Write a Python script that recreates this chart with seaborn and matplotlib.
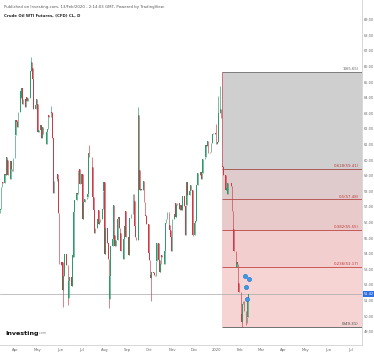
import matplotlib
matplotlib.use("Agg")
import matplotlib.pyplot as plt
import matplotlib.dates as mdates
import seaborn as sns
import pandas as pd
import numpy as np

# ---------------- data (daily closes) ----------------
mar19_days = [11, 12, 13, 14, 15, 18, 19, 20, 21, 22, 25, 26, 27, 28, 29]
mar19_close = [56.79, 56.87, 58.26, 58.61, 58.52, 59.09, 59.03, 60.23, 59.98, 59.04, 58.82, 59.94, 59.41, 59.30, 60.14]
apr19_days = [1, 2, 3, 4, 5, 8, 9, 10, 11, 12, 15, 16, 17, 18, 22, 23, 24, 25, 26, 29, 30]
apr19_close = [61.59, 62.58, 62.46, 62.10, 63.08, 64.40, 63.98, 64.61, 63.58, 63.89, 63.40, 64.05, 63.76, 64.00, 65.70, 66.30, 65.89, 65.21, 63.30, 63.50, 63.91]
may19_days = [1, 2, 3, 6, 7, 8, 9, 10, 13, 14, 15, 16, 17, 20, 21, 22, 23, 24, 28, 29, 30, 31]
may19_close = [63.60, 61.81, 61.94, 62.25, 61.40, 62.12, 61.70, 61.66, 61.04, 61.78, 62.02, 62.87, 62.76, 63.10, 62.99, 61.42, 57.91, 58.63, 59.14, 58.81, 56.59, 53.50]
jun19_days = [3, 4, 5, 6, 7, 10, 11, 12, 13, 14, 17, 18, 19, 20, 21, 24, 25, 26, 27, 28]
jun19_close = [53.25, 53.48, 51.68, 52.59, 53.99, 53.26, 53.27, 51.14, 52.28, 52.51, 51.93, 53.90, 53.76, 56.65, 57.43, 57.90, 57.83, 59.38, 59.43, 58.47]
jul19_days = [1, 2, 3, 5, 8, 9, 10, 11, 12, 15, 16, 17, 18, 19, 22, 23, 24, 25, 26, 29, 30, 31]
jul19_close = [59.09, 56.25, 57.34, 57.51, 57.66, 57.83, 60.43, 60.20, 60.21, 59.58, 57.62, 56.78, 55.30, 55.63, 56.22, 56.77, 55.88, 56.02, 56.20, 56.87, 58.05, 58.58]
aug19_days = [1, 2, 5, 6, 7, 8, 9, 12, 13, 14, 15, 16, 19, 20, 21, 22, 23, 26, 27, 28, 29, 30]
aug19_close = [53.95, 55.66, 54.69, 53.63, 51.09, 52.54, 54.50, 54.93, 57.10, 55.23, 54.47, 54.87, 56.21, 56.34, 55.68, 55.35, 54.17, 53.64, 54.93, 55.78, 56.71, 55.10]
sep19_days = [3, 4, 5, 6, 9, 10, 11, 12, 13, 16, 17, 18, 19, 20, 23, 24, 25, 26, 27, 30]
sep19_close = [53.94, 56.26, 56.30, 56.52, 57.85, 57.40, 55.75, 55.09, 54.85, 62.90, 59.34, 58.11, 58.13, 58.09, 58.64, 57.29, 56.49, 56.41, 55.91, 54.07]
oct19_days = [1, 2, 3, 4, 7, 8, 9, 10, 11, 14, 15, 16, 17, 18, 21, 22, 23, 24, 25, 28, 29, 30, 31]
oct19_close = [53.62, 52.64, 52.45, 52.81, 52.75, 52.63, 52.59, 53.55, 54.70, 53.59, 52.81, 53.36, 53.93, 53.78, 53.31, 54.16, 55.97, 56.23, 56.66, 55.81, 55.54, 55.06, 54.18]
nov19_days = [1, 4, 5, 6, 7, 8, 11, 12, 13, 14, 15, 18, 19, 20, 21, 22, 25, 26, 27, 29]
nov19_close = [56.20, 56.54, 57.23, 56.35, 57.15, 57.24, 56.86, 56.80, 57.12, 56.77, 57.72, 57.05, 55.21, 57.11, 58.58, 57.77, 58.01, 58.41, 58.11, 55.17]
dec19_days = [2, 3, 4, 5, 6, 9, 10, 11, 12, 13, 16, 17, 18, 19, 20, 23, 24, 26, 27, 30, 31]
dec19_close = [55.96, 56.10, 58.43, 58.43, 59.20, 59.02, 59.24, 58.76, 59.18, 60.07, 60.21, 60.94, 60.93, 61.22, 60.44, 60.52, 61.11, 61.68, 61.72, 61.68, 61.06]
jan20_days = [2, 3, 6, 7, 8, 9, 10, 13, 14, 15, 16, 17, 21, 22, 23, 24, 27, 28, 29, 30, 31]
jan20_close = [61.18, 63.05, 63.27, 62.70, 59.61, 59.56, 59.04, 58.08, 58.23, 57.81, 58.52, 58.54, 58.34, 56.74, 55.59, 54.19, 53.14, 53.48, 53.33, 52.14, 51.56]
feb20_days = [3, 4, 5, 6, 7, 10, 11, 12, 13]
feb20_close = [50.11, 49.61, 50.75, 50.95, 50.32, 49.57, 49.94, 51.17, 51.42]

# notable wick extremes
wick_high = {"2019-04-23": 66.60, "2019-07-11": 60.94, "2019-09-16": 63.38,
             "2020-01-03": 64.09, "2020-01-06": 64.72, "2020-01-08": 65.65,
             "2019-05-20": 63.45, "2019-12-31": 62.34}
wick_low = {"2019-06-05": 50.60, "2019-06-12": 50.72, "2019-08-07": 50.52,
            "2019-10-03": 50.99, "2020-02-04": 49.31, "2020-02-10": 49.40,
            "2019-05-31": 53.36, "2019-11-29": 55.11}

# Fibonacci retracement drawn on the chart
fib_start = "2020-01-08"
fib_high = 65.65
fib_low = 49.31
fib_levels = [1, 0.618, 0.5, 0.382, 0.236, 0]
fib_fill_colors = ["#cfcfcf", "#dfcbcb", "#e9caca", "#f2cece", "#f7d4d4"]
fib_line_colors = ["#707070", "#a24a4a", "#b04848", "#bd4646", "#c44444", "#5a5a5a"]
fib_text_colors = ["#606060", "#c03a3a", "#c03a3a", "#c03a3a", "#c03a3a", "#404040"]

last_price = 51.42
marker_dates = ["2020-02-08", "2020-02-14", "2020-02-10", "2020-02-11"]
marker_values = [52.60, 52.35, 51.85, 51.10]

y_ticks = list(range(49, 70))
x_tick_months = ["2019-04-01", "2019-05-01", "2019-06-01", "2019-07-01", "2019-08-01",
                 "2019-09-01", "2019-10-01", "2019-11-01", "2019-12-01", "2020-01-01",
                 "2020-02-01", "2020-03-01", "2020-04-01", "2020-05-01", "2020-06-01",
                 "2020-07-01"]
x_tick_labels = ["Apr", "May", "Jun", "Jul", "Aug", "Sep", "Oct", "Nov", "Dec", "2020",
                 "Feb", "Mar", "Apr", "May", "Jun", "Jul"]

# ---------------- assemble ----------------
blocks = [((2019, 3), mar19_days, mar19_close), ((2019, 4), apr19_days, apr19_close),
          ((2019, 5), may19_days, may19_close), ((2019, 6), jun19_days, jun19_close),
          ((2019, 7), jul19_days, jul19_close), ((2019, 8), aug19_days, aug19_close),
          ((2019, 9), sep19_days, sep19_close), ((2019, 10), oct19_days, oct19_close),
          ((2019, 11), nov19_days, nov19_close), ((2019, 12), dec19_days, dec19_close),
          ((2020, 1), jan20_days, jan20_close), ((2020, 2), feb20_days, feb20_close)]
rows = []
for (yr, mo), days, closes in blocks:
    n = min(len(days), len(closes))
    for d, c in zip(days[:n], closes[:n]):
        rows.append((pd.Timestamp(yr, mo, d), c))
df = pd.DataFrame(rows, columns=["date", "close"])
df["open"] = df["close"].shift(1).fillna(df["close"].iloc[0] - 0.2)
df["high"] = df[["open", "close"]].max(axis=1)
df["low"] = df[["open", "close"]].min(axis=1)
for k, v in wick_high.items():
    df.loc[df["date"] == pd.Timestamp(k), "high"] = v
for k, v in wick_low.items():
    df.loc[df["date"] == pd.Timestamp(k), "low"] = v

# ---------------- plot ----------------
sns.set_style("white")
plt.rcParams["font.family"] = ["DejaVu Sans"]

W, H = 374, 354
fig = plt.figure(figsize=(W / 100, H / 100), dpi=100)
ax = fig.add_axes([0, 9 / H, 362 / W, 345 / H])

x = mdates.date2num(df["date"])
up = (df["close"] >= df["open"]).values
col = np.where(up, "#2f9a6c", "#cc3a48")

xmin = mdates.date2num(pd.Timestamp("2019-03-11 12:00"))
xmax = mdates.date2num(pd.Timestamp("2020-07-17"))
ax.set_xlim(xmin, xmax)
ax.set_ylim(48.15, 70.26)

# Fibonacci zones
fx0 = mdates.date2num(pd.Timestamp(fib_start))
prices = [fib_low + l * (fib_high - fib_low) for l in fib_levels]
for i in range(len(prices) - 1):
    ax.fill_between([fx0, xmax], prices[i + 1], prices[i], color=fib_fill_colors[i], lw=0, zorder=1)
for i, (l, p) in enumerate(zip(fib_levels, prices)):
    ax.hlines(p, fx0, xmax, color=fib_line_colors[i], lw=0.6, zorder=2)
    ax.annotate(f"{l:g}({p:.2f})", xy=(xmax, p), xytext=(-2.5, 0.6), textcoords="offset points",
                ha="right", va="bottom", fontsize=2.8, color=fib_text_colors[i], zorder=7)

# last price line
ax.axhline(last_price, color="#a8a8a8", lw=0.5, zorder=2)

# candles
ax.vlines(x, df["low"], df["high"], color=col, lw=0.45, zorder=3)
body_lo = np.minimum(df["open"], df["close"])
body_h = np.maximum(np.abs(df["close"] - df["open"]), 0.04)
ax.bar(x, body_h, bottom=body_lo, width=0.9, color=col, lw=0, zorder=4)

# event markers
sns.scatterplot(x=mdates.date2num(pd.to_datetime(marker_dates)), y=marker_values, ax=ax,
                color="#3d9be9", edgecolor="#1c6fc4", linewidth=0.4, s=9, zorder=6, legend=False)

# axes styling
ax.set_xlabel("")
ax.set_ylabel("")
ax.yaxis.tick_right()
ax.set_yticks(y_ticks)
ax.set_yticklabels([f"{v:.2f}" for v in y_ticks])
ax.set_xticks(mdates.date2num(pd.to_datetime(x_tick_months)))
ax.set_xticklabels(x_tick_labels)
ax.tick_params(axis="y", length=0, pad=1.2, labelsize=2.5, colors="#666666")
ax.tick_params(axis="x", length=0, pad=2.2, labelsize=2.7, colors="#666666")
for s in ["left", "top"]:
    ax.spines[s].set_visible(False)
for s in ["right", "bottom"]:
    ax.spines[s].set_color("#c8c8c8")
    ax.spines[s].set_linewidth(0.5)
ax.grid(False)

ax.annotate(f"{last_price:.2f}", xy=(1, last_price), xycoords=("axes fraction", "data"),
            xytext=(1.2, 0), textcoords="offset points", ha="left", va="center",
            fontsize=2.5, color="white", annotation_clip=False,
            bbox=dict(boxstyle="square,pad=0.3", fc="#2f6fe0", ec="none"))

# header texts
fig.text(4 / W, 1 - 7 / H, "Published on Investing.com, 13/Feb/2020 - 2:14:03 GMT, Powered by TradingView.",
         fontsize=2.8, color="#555555", va="center", ha="left")
fig.text(4 / W, 1 - 16 / H, "Crude Oil WTI Futures, (CFD) CL, D",
         fontsize=2.8, color="#222222", fontweight="bold", va="center", ha="left")

# logo
logo = fig.text(5 / W, 1 - 333 / H, "Investing", fontsize=4.6, fontweight="bold", color="#111111",
                va="center", ha="left")
fig.text(0, 0, "")
ax.annotate(".com", xy=(1, 0.15), xycoords=logo, xytext=(0.4, 0), textcoords="offset points",
            ha="left", va="bottom", fontsize=2.4, color="#888888", annotation_clip=False)

fig.savefig("out.png", dpi=100)
